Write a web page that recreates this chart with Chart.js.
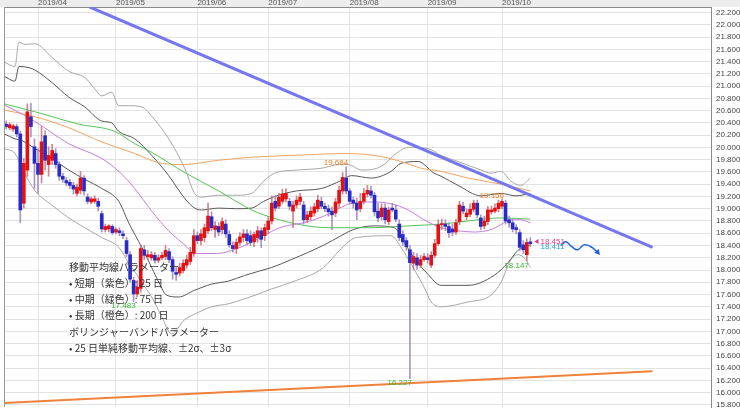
<!DOCTYPE html>
<html><head><meta charset="utf-8">
<script src="https://cdn.jsdelivr.net/npm/chart.js@4/dist/chart.umd.min.js"></script>
<style>html,body{margin:0;padding:0;background:#fff;}#wrap{width:740px;height:411px;}</style>
</head><body><div id="wrap"><canvas id="c" width="740" height="411"></canvas></div>
<script>
// ---- axis categories / ticks ----
const monthTicks = [0, 22, 45, 65, 88, 110, 131];          // trading-day index of 1st day of month
const monthLabels = ['2019/04','2019/05','2019/06','2019/07','2019/08','2019/09','2019/10'];
const yTicks = [15.8,16.0,16.2,16.4,16.6,16.8,17.0,17.2,17.4,17.6,17.8,18.0,18.2,18.4,18.6,18.8,19.0,19.2,19.4,19.6,19.8,20.0,20.2,20.4,20.6,20.8,21.0,21.2,21.4,21.6,21.8,22.0,22.2];
const firstDay = -9;   // index of first candle (trading days relative to 2019/04/01)

// ---- OHLC (TRY/JPY daily) ----
const opens = [20.38,20.32,20.30,20.34,20.22,19.09,19.63,20.50,20.01,19.74,
19.56,20.19,19.72,19.79,19.90,19.72,19.53,19.46,19.43,19.38,
19.25,19.30,19.50,19.19,19.11,19.12,19.12,18.92,18.66,18.67,
18.71,18.62,18.64,18.59,18.48,18.25,17.83,17.61,17.70,18.33,
18.22,18.20,18.24,18.16,18.20,18.22,18.30,18.17,17.96,17.95,
17.99,18.08,18.14,18.27,18.56,18.48,18.53,18.64,18.87,18.66,
18.71,18.66,18.75,18.58,18.40,18.35,18.45,18.53,18.59,18.56,
18.46,18.53,18.64,18.56,18.66,18.80,19.12,19.04,19.12,19.16,
19.12,18.96,19.06,19.12,19.06,18.82,18.87,18.93,19.00,19.12,
19.04,19.00,18.96,18.93,19.09,19.29,19.50,19.29,19.14,19.09,
19.00,19.12,19.24,19.29,19.22,18.96,18.87,19.01,18.79,19.01,
18.98,18.75,18.58,18.48,18.33,18.11,18.20,18.08,18.17,18.20,
18.08,18.24,18.43,18.74,18.75,18.71,18.67,18.62,18.79,19.04,
18.87,18.91,18.99,19.09,18.85,18.72,18.79,18.95,18.96,19.00,
19.04,19.09,18.82,18.77,18.69,18.61,18.41,18.25,18.46];
const highs = [20.43,20.40,20.38,20.38,20.27,19.82,20.71,20.72,20.14,19.98,
20.34,20.27,20.01,20.05,19.98,19.77,19.58,19.51,19.48,19.43,
19.40,19.61,19.54,19.24,19.19,19.21,19.17,18.96,18.75,18.74,
18.74,18.69,18.69,18.64,18.53,18.30,17.88,17.83,18.41,18.40,
18.32,18.30,18.29,18.25,18.29,18.40,18.35,18.22,18.04,18.11,
18.17,18.24,18.37,18.66,18.62,18.66,18.75,19.09,18.95,18.79,
18.77,18.85,18.82,18.64,18.46,18.51,18.61,18.66,18.66,18.64,
18.62,18.71,18.69,18.75,18.87,19.21,19.21,19.25,19.32,19.33,
19.17,19.12,19.21,19.25,19.12,18.96,19.03,19.09,19.22,19.19,
19.09,19.06,19.03,19.17,19.37,19.59,19.684,19.33,19.19,19.17,
19.25,19.33,19.38,19.37,19.27,19.09,19.08,19.08,19.03,19.09,
19.06,18.82,18.64,18.53,18.40,18.29,18.27,18.24,18.27,18.27,
18.30,18.50,18.82,18.83,18.82,18.77,18.75,18.83,19.12,19.11,
19.00,19.08,19.14,19.14,18.90,18.88,19.04,19.04,19.08,19.14,
19.156,19.14,18.88,18.82,18.74,18.66,18.48,18.51,18.53];
const lows = [20.30,20.29,20.26,20.17,18.77,19.01,19.53,20.17,19.33,19.25,
19.42,19.63,19.53,19.72,19.66,19.46,19.43,19.37,19.33,19.24,
19.21,19.24,19.22,19.08,19.08,19.09,18.96,18.62,18.62,18.62,
18.58,18.59,18.56,18.51,18.22,17.80,17.483,17.56,17.64,18.17,
18.17,18.16,18.11,18.12,18.17,18.17,18.12,17.85,17.83,17.90,
17.95,18.03,18.09,18.22,18.43,18.41,18.46,18.59,18.64,18.53,
18.56,18.59,18.53,18.37,18.29,18.27,18.40,18.46,18.41,18.40,
18.38,18.45,18.37,18.48,18.59,18.75,18.96,19.00,19.08,19.11,
18.98,18.69,19.01,19.06,18.75,18.77,18.82,18.88,18.95,19.00,
18.95,18.88,18.66,18.87,19.01,19.24,19.24,19.08,19.01,18.82,
18.95,19.08,19.19,19.17,18.88,18.79,18.82,18.75,18.74,18.95,
18.79,18.48,18.40,18.32,16.227,18.01,18.01,18.04,18.14,18.11,
18.04,18.20,18.40,18.66,18.64,18.53,18.56,18.58,18.74,18.92,
18.82,18.87,18.95,18.85,18.66,18.67,18.74,18.91,18.93,18.95,
19.00,18.75,18.70,18.62,18.59,18.32,18.27,18.147,18.38];
const closes = [20.34,20.37,20.35,20.22,18.98,19.74,20.58,20.34,19.74,19.56,
20.09,19.79,19.87,19.95,19.72,19.53,19.48,19.42,19.38,19.32,
19.35,19.50,19.29,19.12,19.16,19.16,19.04,18.67,18.71,18.72,
18.61,18.66,18.61,18.56,18.27,17.85,17.61,17.72,18.35,18.24,
18.25,18.25,18.16,18.20,18.24,18.32,18.17,17.98,17.93,18.04,
18.11,18.17,18.29,18.56,18.48,18.59,18.69,18.88,18.69,18.72,
18.62,18.79,18.59,18.41,18.35,18.45,18.54,18.59,18.48,18.45,
18.58,18.64,18.50,18.69,18.80,19.09,19.01,19.19,19.24,19.25,
19.04,19.06,19.14,19.19,18.82,18.90,18.96,19.03,19.14,19.04,
19.00,18.95,18.90,19.11,19.30,19.51,19.29,19.12,19.09,18.98,
19.12,19.25,19.30,19.22,18.95,18.85,19.01,18.82,18.98,18.98,
18.83,18.53,18.46,18.38,18.12,18.22,18.08,18.17,18.22,18.17,
18.24,18.43,18.74,18.75,18.71,18.61,18.62,18.77,19.06,18.96,
18.93,18.99,19.09,18.90,18.71,18.80,18.98,18.98,19.01,19.09,
19.12,18.80,18.77,18.67,18.66,18.37,18.33,18.45,18.43];

// ---- moving averages ----
const ma25X = [-9.5,-7.3,-0.8,8.7,18.0,22.8,27.3,32.1,36.9,40.6,44.8,50.4,57.5,63.7,68.2,76.3,82.3,87.0,91.3,94.9,99.7,104.5,109.0,113.8,118.6,123.1,127.9,130.7,133.5,136.3,139];
const ma25Y = [20.69,20.63,20.42,20.06,19.82,19.61,19.33,18.96,18.64,18.45,18.27,18.27,18.38,18.56,18.69,18.79,18.92,19.06,19.11,19.11,19.08,18.98,18.82,18.69,18.64,18.62,18.66,18.74,18.82,18.82,18.77];
const ma75X = [-9.5,-0.8,11.5,21.7,27.3,32.1,36.9,41.4,51.0,60.3,63.7,73.0,82.3,93.5,104.5,113.8,121.4,130.7,139];
const ma75Y = [20.71,20.58,20.38,20.26,20.06,19.92,19.75,19.59,19.29,18.98,18.90,18.75,18.69,18.69,18.72,18.75,18.80,18.85,18.83];
const ma200X = [-9.5,-0.8,8.7,18.0,27.3,34.1,40.6,51.0,60.3,76.3,85.6,94.9,102.5,108.2,113.8,121.4,130.7,139];
const ma200Y = [20.61,20.50,20.32,20.09,19.90,19.75,19.72,19.79,19.84,19.88,19.90,19.87,19.77,19.66,19.61,19.50,19.40,19.29];

// ---- Bollinger bands ----
const bb3uX = [-9.5,-6.5,-5.4,-3.7,-0.8,3.9,8.7,13.2,16.1,18.0,20.8,22.8,25.6,29.3,32.1,36.9,41.4,44.2,46.2,51.0,56.1,60.3,63.7,66.8,73.0,80.0,85.1,87.6,91.3,96.9,101.1,104.5,110.1,113.8,118.6,125.1,127.9,130.7,133.5,136.3,139];
const bb3uY = [21.39,21.32,21.72,21.68,21.69,21.47,21.24,21.14,20.95,20.84,20.90,20.68,20.68,20.66,20.51,20.14,19.66,19.25,19.19,19.22,19.22,19.25,19.45,19.58,19.63,19.66,19.72,19.72,19.63,19.69,19.90,20.00,19.98,19.87,19.77,19.63,19.58,19.61,19.45,19.38,19.50];
const bb2uX = [-9.5,-6.5,-5.4,-2.5,-0.8,3.9,8.7,13.2,18.0,20.8,22.8,27.3,32.1,36.9,41.4,44.2,46.2,51.0,56.1,60.3,63.7,67.3,73.0,80.0,85.6,88.5,94.1,99.7,102.5,107.3,111.8,113.8,118.6,125.1,130.7,134.9,139];
const bb2uY = [21.16,21.08,21.32,21.30,21.26,21.06,20.82,20.66,20.43,20.40,20.26,20.14,19.87,19.54,19.17,19.01,18.98,19.01,19.00,19.01,19.12,19.21,19.29,19.33,19.46,19.54,19.50,19.61,19.74,19.77,19.58,19.53,19.38,19.21,19.25,19.21,19.25];
const bb2lX = [-9.5,-6.5,-4.5,-0.8,3.9,8.7,13.2,18.0,22.8,25.6,29.3,32.1,34.1,36.3,39.7,44.2,49.0,53.8,58.3,62.3,65.9,71.5,80.8,85.6,89.0,94.9,100.6,103.4,106.2,110.1,113.8,121.4,128.7,132.7,135.5,139];
const bb2lY = [20.22,20.14,20.11,19.98,19.82,19.63,19.48,19.33,19.12,18.77,18.37,18.04,17.80,17.59,17.56,17.67,17.77,17.82,17.91,17.98,18.04,18.17,18.41,18.56,18.66,18.72,18.69,18.45,18.20,17.93,17.75,17.75,17.91,18.12,18.32,18.41];
const bb3lX = [-9.5,-6.5,-4.5,-0.8,3.9,8.7,13.2,18.0,22.8,25.6,29.3,32.1,34.9,37.7,41.4,44.2,49.0,53.8,58.3,62.3,65.9,71.5,80.6,85.1,89.9,99.7,102.5,105.4,109.0,111.0,113.8,121.4,127.9,130.7,133.5,135.5,137.7,139];
const bb3lY = [19.98,19.90,19.66,19.29,19.06,18.85,18.69,18.53,18.37,18.12,17.80,17.56,17.24,16.96,17.19,17.28,17.40,17.45,17.53,17.61,17.69,17.80,18.04,18.32,18.53,18.56,18.37,18.09,17.72,17.48,17.40,17.48,17.59,17.80,18.17,18.25,18.17,18.04];

// ---- trend lines & forecast arrow ----
const blueTrendX = [14.6, 173.5];
const blueTrendY = [22.29, 18.37];
const orangeTrendX = [-9.6, 173.5];
const orangeTrendY = [15.83, 16.35];
const arrowX = [147.6, 149.0, 150.7, 152.4, 154.1, 156.1, 158.0];
const arrowY = [18.40, 18.46, 18.38, 18.33, 18.41, 18.38, 18.29];

// ---- annotations ----
const peakIdx = [27, 87, 105, 131, 138];
const peakVal = [17.483, 19.684, 16.227, 19.156, 18.147];
const peakKind = ['low', 'high', 'low', 'high', 'low'];
const quoteIdx = 141.3;
const quoteVal = [18.451, 18.411];
const noteLines = ['移動平均線パラメーター','• 短期（紫色）: 25 日','• 中期（緑色）: 75 日','• 長期（橙色）: 200 日','ボリンジャーバンドパラメーター','• 25 日単純移動平均線、±2σ、±3σ'];

// ---- build datasets ----
const days = opens.map((_, k) => firstDay + k);
const UP = '#e31212', DOWN = '#2a2ac6';
const isUp = days.map((_, k) => closes[k] >= opens[k]);
const bodyData = days.map((d, k) => ({x: d, y: [opens[k], closes[k]]}));
const wickData = days.map((d, k) => ({x: d, y: [lows[k], highs[k]]}));
const pts = (xs, ys) => xs.map((x, k) => ({x: x, y: ys[k]}));
const line = (label, xs, ys, color, width, order, smooth) => ({
  type: 'line', label, data: pts(xs, ys), borderColor: color, borderWidth: width,
  pointRadius: 0, fill: false, order, tension: smooth ? 0.4 : 0,
  cubicInterpolationMode: smooth ? 'monotone' : 'default'
});

const datasets = [
  line('blueTrend', blueTrendX, blueTrendY, '#7676ee', 3, 0, false),
  line('orangeTrend', orangeTrendX, orangeTrendY, '#f0813a', 2, 0, false),
  Object.assign(line('arrow', arrowX, arrowY, '#1e5ee6', 1.5, 0, true), {
    tension: 0.45, cubicInterpolationMode: 'default',
    pointRadius: arrowX.map((_, k) => k === arrowX.length - 1 ? 3.5 : 0),
    pointStyle: 'triangle', pointRotation: 140, pointBackgroundColor: '#1e5ee6', pointBorderWidth: 0
  }),
  {type: 'bar', label: 'body', data: bodyData, backgroundColor: isUp.map(u => u ? UP : DOWN),
   barThickness: 3, minBarLength: 1, borderWidth: 0, grouped: false, order: 1},
  {type: 'bar', label: 'wick', data: wickData, backgroundColor: isUp.map(u => u ? 'rgba(200,110,120,0.85)' : 'rgba(150,130,190,0.85)'),
   barThickness: 1, borderWidth: 0, grouped: false, order: 2},
  line('ma25', ma25X, ma25Y, '#c77ee0', 1, 3, true),
  line('ma75', ma75X, ma75Y, '#55c455', 1, 3, true),
  line('ma200', ma200X, ma200Y, '#f2a462', 1, 3, true),
  line('bb2u', bb2uX, bb2uY, '#585858', 1, 4, true),
  line('bb2l', bb2lX, bb2lY, '#585858', 1, 4, true),
  line('bb3u', bb3uX, bb3uY, '#a8a8a8', 1, 4, true),
  line('bb3l', bb3lX, bb3lY, '#a8a8a8', 1, 4, true)
];

const FONT = '"Liberation Sans", Arial, sans-serif';
const decor = {
  id: 'decor',
  beforeDraw(chart) {
    const {ctx, chartArea: a, width, height} = chart;
    ctx.save();
    ctx.fillStyle = '#ffffff'; ctx.fillRect(0, 0, width, height);
    ctx.fillStyle = '#ededed'; ctx.fillRect(0, 0, width, a.top);
    ctx.restore();
  },
  afterDatasetsDraw(chart) {
    const {ctx, chartArea: a} = chart;
    const xs = chart.scales.x, ys = chart.scales.y;
    ctx.save();
    // left frame
    ctx.strokeStyle = '#9a9a9a'; ctx.lineWidth = 1;
    ctx.beginPath(); ctx.moveTo(a.left + 0.5, a.top); ctx.lineTo(a.left + 0.5, a.bottom); ctx.stroke();
    // high / low labels
    ctx.font = '8px ' + FONT; ctx.textAlign = 'right'; ctx.textBaseline = 'middle';
    peakIdx.forEach((d, k) => {
      const low = peakKind[k] === 'low';
      ctx.fillStyle = low ? '#36b436' : '#ef7a1e';
      ctx.fillText(peakVal[k].toFixed(3), xs.getPixelForValue(d) + 2, ys.getPixelForValue(peakVal[k]) + (low ? 4.5 : -3.5));
    });
    // current quotes
    const qx = xs.getPixelForValue(quoteIdx);
    const qy0 = ys.getPixelForValue(quoteVal[0]) - 1, qy1 = ys.getPixelForValue(quoteVal[1]) + 1.5;
    ctx.fillStyle = '#e8357a';
    ctx.beginPath(); ctx.moveTo(qx - 4, qy0); ctx.lineTo(qx, qy0 - 2.5); ctx.lineTo(qx, qy0 + 2.5); ctx.closePath(); ctx.fill();
    ctx.textAlign = 'left';
    ctx.fillText(quoteVal[0].toFixed(3), qx + 2, qy0);
    ctx.fillStyle = '#22a6c6';
    ctx.fillText(quoteVal[1].toFixed(3), qx + 2, qy1);
    // note block
    ctx.font = '10px "Noto Sans CJK JP", sans-serif'; ctx.fillStyle = '#333';
    ctx.textAlign = 'left'; ctx.textBaseline = 'middle';
    noteLines.forEach((t, k) => ctx.fillText(t, a.left + 65, 267 + k * 16.2));
    ctx.restore();
  }
};

new Chart(document.getElementById('c'), {
  type: 'bar',
  data: {datasets},
  options: {
    responsive: false, animation: false, devicePixelRatio: 1, events: [],
    layout: {padding: {left: 2, right: 0, top: 0, bottom: 0}},
    plugins: {legend: {display: false}, tooltip: {enabled: false}},
    scales: {
      x: {
        type: 'linear', position: 'top', min: -9.6, max: 190, offset: false,
        afterBuildTicks: s => { s.ticks = monthTicks.map(v => ({value: v})); },
        afterFit: s => { s.height = 7; s.paddingLeft = 0; s.paddingRight = 0; },
        grid: {color: '#e3e3e3', drawTicks: false, offset: false},
        border: {display: true, color: '#8a8a8a'},
        ticks: {autoSkip: false, maxRotation: 0, align: 'start', padding: -1, color: '#555',
                font: {family: FONT, size: 8},
                callback: v => { const k = monthTicks.indexOf(v); return k >= 0 ? monthLabels[k] : ''; }}
      },
      y: {
        type: 'linear', position: 'right', min: 15.766, max: 22.29,
        afterBuildTicks: s => { s.ticks = yTicks.map(v => ({value: v})); },
        afterFit: s => { s.width = 29; s.paddingTop = 0; s.paddingBottom = 0; },
        grid: {color: '#e3e3e3', drawTicks: false},
        border: {display: true, color: '#8a8a8a'},
        ticks: {autoSkip: false, padding: 5, color: '#444', font: {family: FONT, size: 8},
                callback: v => Number(v).toFixed(3)}
      }
    }
  },
  plugins: [decor]
});
</script></body></html>
